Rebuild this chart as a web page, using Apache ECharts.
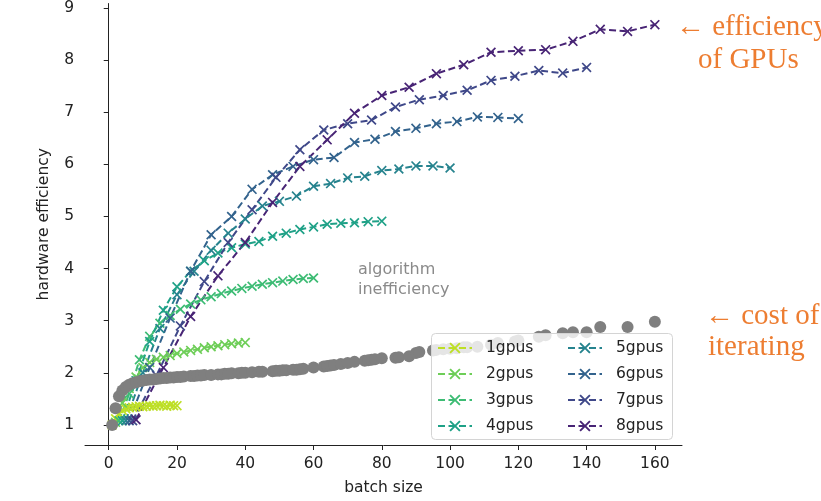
<!DOCTYPE html>
<html>
<head>
<meta charset="utf-8">
<script src="https://cdn.jsdelivr.net/npm/echarts@6/dist/echarts.min.js"></script>
<style>
  html, body { margin: 0; padding: 0; background: #fff; }
  #chart { width: 821px; height: 501px; }
</style>
</head>
<body>
<div id="chart"></div>
<script>
// batch sizes per gpu count
const batch1 = [1, 2, 3, 4, 5, 6, 7, 8, 9, 10, 11, 12, 13, 14, 15, 16, 17, 18, 19, 20];
const batch2 = [2, 4, 6, 8, 10, 12, 14, 16, 18, 20, 22, 24, 26, 28, 30, 32, 34, 36, 38, 40];
const batch3 = [3, 6, 9, 12, 15, 18, 21, 24, 27, 30, 33, 36, 39, 42, 45, 48, 51, 54, 57, 60];
const batch4 = [4, 8, 12, 16, 20, 24, 28, 32, 36, 40, 44, 48, 52, 56, 60, 64, 68, 72, 76, 80];
const batch5 = [5, 10, 15, 20, 25, 30, 35, 40, 45, 50, 55, 60, 65, 70, 75, 80, 85, 90, 95, 100];
const batch6 = [6, 12, 18, 24, 30, 36, 42, 48, 54, 60, 66, 72, 78, 84, 90, 96, 102, 108, 114, 120];
const batch7 = [7, 14, 21, 28, 35, 42, 49, 56, 63, 70, 77, 84, 91, 98, 105, 112, 119, 126, 133, 140];
const batch8 = [8, 16, 24, 32, 40, 48, 56, 64, 72, 80, 88, 96, 104, 112, 120, 128, 136, 144, 152, 160];

// hardware efficiency per gpu count
const eff1 = [1.00, 1.12, 1.22, 1.28, 1.31, 1.33, 1.34, 1.35, 1.36, 1.35, 1.36, 1.37, 1.36, 1.37, 1.38, 1.37, 1.36, 1.38, 1.37, 1.37];
const eff2 = [1.05, 1.42, 1.70, 1.92, 2.10, 2.20, 2.26, 2.30, 2.33, 2.37, 2.40, 2.43, 2.45, 2.48, 2.50, 2.52, 2.54, 2.56, 2.57, 2.58];
const eff3 = [1.08, 1.60, 2.25, 2.70, 2.95, 3.10, 3.22, 3.32, 3.40, 3.46, 3.52, 3.57, 3.62, 3.66, 3.70, 3.73, 3.76, 3.79, 3.81, 3.82];
const eff4 = [1.08, 1.85, 2.60, 3.20, 3.65, 3.95, 4.15, 4.30, 4.40, 4.47, 4.52, 4.62, 4.68, 4.75, 4.80, 4.85, 4.87, 4.88, 4.90, 4.91];
const eff5 = [1.08, 2.00, 2.85, 3.50, 3.95, 4.35, 4.68, 4.95, 5.20, 5.29, 5.39, 5.58, 5.63, 5.74, 5.77, 5.88, 5.91, 5.97, 5.97, 5.93];
const eff6 = [1.08, 2.10, 3.05, 3.95, 4.65, 5.00, 5.52, 5.80, 5.96, 6.09, 6.13, 6.42, 6.48, 6.63, 6.69, 6.78, 6.82, 6.91, 6.90, 6.88];
const eff7 = [1.08, 1.95, 2.90, 3.75, 4.50, 5.13, 5.75, 6.28, 6.66, 6.78, 6.85, 7.10, 7.24, 7.32, 7.42, 7.61, 7.69, 7.80, 7.75, 7.86];
const eff8 = [1.10, 2.10, 3.08, 3.86, 4.50, 5.27, 5.96, 6.47, 6.98, 7.32, 7.48, 7.74, 7.91, 8.15, 8.18, 8.20, 8.36, 8.59, 8.55, 8.68];

// grey dots: cost of iterating
const costBatch = [1, 2, 3, 4, 5, 6, 7, 8, 9, 10, 11, 12, 13, 14, 15, 16, 17, 18, 19, 20, 21, 22, 24, 25, 26, 27, 28, 30, 32, 33, 34, 35, 36, 38, 39, 40, 42, 44, 45, 48, 49, 50, 51, 52, 54, 55, 56, 57, 60, 63, 64, 65, 66, 68, 70, 72, 75, 76, 77, 78, 80, 84, 85, 88, 90, 91, 95, 96, 98, 100, 102, 104, 105, 108, 112, 114, 119, 120, 126, 128, 133, 136, 140, 144, 152, 160];
const costValue = [1.00, 1.32, 1.55, 1.66, 1.73, 1.77, 1.80, 1.82, 1.84, 1.85, 1.86, 1.87, 1.87, 1.88, 1.89, 1.90, 1.90, 1.91, 1.91, 1.92, 1.92, 1.93, 1.94, 1.94, 1.95, 1.95, 1.96, 1.96, 1.97, 1.97, 1.98, 1.98, 1.99, 1.99, 2.00, 2.00, 2.01, 2.02, 2.02, 2.03, 2.04, 2.04, 2.05, 2.05, 2.06, 2.06, 2.07, 2.08, 2.10, 2.12, 2.13, 2.14, 2.15, 2.17, 2.19, 2.21, 2.23, 2.24, 2.25, 2.26, 2.28, 2.29, 2.30, 2.32, 2.38, 2.40, 2.43, 2.44, 2.45, 2.46, 2.47, 2.49, 2.49, 2.50, 2.54, 2.57, 2.60, 2.62, 2.69, 2.72, 2.76, 2.78, 2.78, 2.88, 2.88, 2.98];

const names = ['1gpus', '2gpus', '3gpus', '4gpus', '5gpus', '6gpus', '7gpus', '8gpus'];
const colors = ['#bddf26', '#6ece58', '#3dbc74', '#1fa187', '#26838e', '#33638d', '#3f4889', '#482475'];
const xTicks = [0, 20, 40, 60, 80, 100, 120, 140, 160];
const yTicks = [1, 2, 3, 4, 5, 6, 7, 8, 9];

const batches = [batch1, batch2, batch3, batch4, batch5, batch6, batch7, batch8];
const effs = [eff1, eff2, eff3, eff4, eff5, eff6, eff7, eff8];

const xMark = 'path://M0,1.2L1.2,0L5,3.8L8.8,0L10,1.2L6.2,5L10,8.8L8.8,10L5,6.2L1.2,10L0,8.8L3.8,5Z';
const font = 'DejaVu Sans';
const fs = 15.5;

const chart = echarts.init(document.getElementById('chart'));

const lineSeries = names.map((name, i) => ({
  name,
  type: 'line',
  data: batches[i].map((b, j) => [b, effs[i][j]]),
  symbol: xMark,
  symbolSize: 10,
  showSymbol: true,
  color: colors[i],
  itemStyle: { color: colors[i] },
  lineStyle: { color: colors[i], width: 2, type: [7, 3.5] },
  emphasis: { disabled: true },
  silent: true,
  z: 2
}));

const costSeries = {
  name: 'cost',
  type: 'scatter',
  data: costBatch.map((b, j) => [b, costValue[j]]),
  symbol: 'circle',
  symbolSize: 12,
  itemStyle: { color: '#7f7f7f', opacity: 1 },
  silent: true,
  z: 2
};

function legendAt(left, data) {
  return {
    show: true,
    orient: 'vertical',
    left,
    top: 340,
    padding: 0,
    itemWidth: 34,
    itemHeight: 14,
    itemGap: 10,
    selectedMode: false,
    data,
    textStyle: { fontFamily: font, fontSize: fs, color: '#222', lineHeight: 15, padding: [0, 0, 0, 9] },
    z: 5
  };
}

const option = {
  animation: false,
  backgroundColor: '#fff',
  grid: { left: 85, right: 139, top: 3, bottom: 53, containLabel: false },
  legend: [legendAt(437, names.slice(0, 4)), legendAt(567, names.slice(4))],
  xAxis: {
    type: 'value',
    min: -6.95,
    max: 167.95,
    name: 'batch size',
    nameLocation: 'middle',
    nameGap: 35,
    nameTextStyle: { fontFamily: font, fontSize: fs, color: '#222' },
    axisLine: { show: true, lineStyle: { color: '#222', width: 1 } },
    axisTick: { show: true, length: 5, customValues: xTicks, lineStyle: { color: '#222' } },
    axisLabel: { customValues: xTicks, fontFamily: font, fontSize: fs, color: '#222', margin: 11 },
    splitLine: { show: false }
  },
  yAxis: {
    type: 'value',
    min: 0.615,
    max: 9.085,
    name: 'hardware efficiency',
    nameLocation: 'middle',
    nameGap: 33,
    nameRotate: 90,
    nameTextStyle: { fontFamily: font, fontSize: fs, color: '#222' },
    axisLine: { show: true, lineStyle: { color: '#222', width: 1 } },
    axisTick: { show: true, length: 5, customValues: yTicks, lineStyle: { color: '#222' } },
    axisLabel: { customValues: yTicks, fontFamily: font, fontSize: fs, color: '#222', margin: 11 },
    splitLine: { show: false }
  },
  graphic: {
    elements: [
      {
        type: 'rect',
        z: 3,
        silent: true,
        shape: { x: 431.5, y: 333.5, width: 241, height: 106, r: 4 },
        style: { fill: 'rgba(255,255,255,0.8)', stroke: '#d4d4d4', lineWidth: 1 }
      },
      {
        type: 'text', z: 3, silent: true, left: 358, top: 260,
        style: { text: 'algorithm\ninefficiency', fill: '#8a8a8a', font: '16px "DejaVu Sans"', lineHeight: 20 }
      },
      {
        type: 'text', z: 3, silent: true, x: 676, y: 27,
        style: { text: '\u2190 efficiency', fill: '#ed7d31', font: '29px "Liberation Serif"', verticalAlign: 'middle' }
      },
      {
        type: 'text', z: 3, silent: true, x: 698, y: 60,
        style: { text: 'of GPUs', fill: '#ed7d31', font: '29px "Liberation Serif"', verticalAlign: 'middle' }
      },
      {
        type: 'text', z: 3, silent: true, x: 705, y: 316,
        style: { text: '\u2190 cost of', fill: '#ed7d31', font: '29px "Liberation Serif"', verticalAlign: 'middle' }
      },
      {
        type: 'text', z: 3, silent: true, x: 708, y: 347,
        style: { text: 'iterating', fill: '#ed7d31', font: '29px "Liberation Serif"', verticalAlign: 'middle' }
      }
    ]
  },
  series: lineSeries.concat([costSeries])
};

chart.setOption(option);
</script>
</body>
</html>
